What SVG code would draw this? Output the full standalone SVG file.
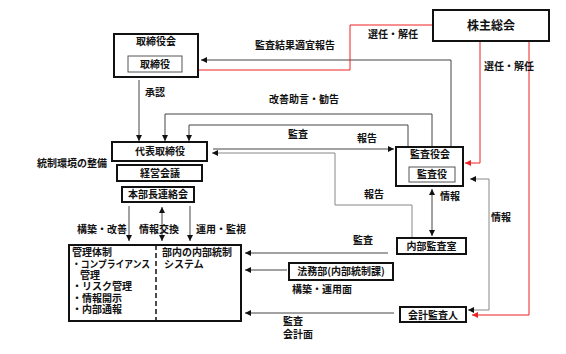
<svg xmlns="http://www.w3.org/2000/svg" width="566" height="354" viewBox="0 0 566 354">
<style>
text{font-family:"Noto Sans CJK JP","Liberation Sans",sans-serif;font-size:10px;font-weight:bold;fill:#111}
.c{text-anchor:middle}
.box{fill:#fff;stroke:#111;stroke-width:2}
.inner{fill:#fff;stroke:#555;stroke-width:1}
.ln{fill:none;stroke:#444;stroke-width:1}
.gr{fill:none;stroke:#888;stroke-width:1}
.rd{fill:none;stroke:#e22;stroke-width:1}
</style>
<defs>
<marker id="a" viewBox="0 0 6 6" refX="6" refY="3" markerWidth="6" markerHeight="6" markerUnits="userSpaceOnUse" orient="auto-start-reverse"><path d="M0,0L6,3L0,6z" fill="#111"/></marker>
<marker id="r" viewBox="0 0 6 6" refX="6" refY="3" markerWidth="6" markerHeight="6" markerUnits="userSpaceOnUse" orient="auto"><path d="M0,0L6,3L0,6z" fill="#e22"/></marker>
</defs>
<g id="connectors">
<path class="ln" d="M139,80V141" marker-end="url(#a)"/>
<path class="ln" d="M432,147V114H165V141" marker-end="url(#a)"/>
<path class="ln" d="M408,147V125H189V141" marker-end="url(#a)"/>
<path class="ln" d="M451,147V60H201" marker-end="url(#a)"/>
<path class="rd" d="M433,25H350V70H186" marker-end="url(#r)"/>
<path class="rd" d="M480,41V163H465" marker-end="url(#r)"/>
<path class="rd" d="M529,41V315H472" marker-end="url(#r)"/>
<path class="ln" d="M213,149H394" marker-end="url(#a)"/>
<path class="gr" d="M412,238V205H335V153H212" marker-end="url(#a)"/>
<path class="ln" d="M432,189V236" marker-start="url(#a)" marker-end="url(#a)"/>
<path class="gr" d="M470,179H489V310H468" marker-start="url(#a)" marker-end="url(#a)"/>
<path class="ln" d="M129,206V241" marker-end="url(#a)"/>
<path class="ln" d="M162,207V241" marker-start="url(#a)" marker-end="url(#a)"/>
<path class="ln" d="M190,206V241" marker-end="url(#a)"/>
<path class="ln" d="M388,253H245" marker-end="url(#a)"/>
<path class="ln" d="M287,270H245" marker-end="url(#a)"/>
<path class="ln" d="M394,313H245" marker-end="url(#a)"/>
</g>
<g id="labels">
<text x="255" y="49">監査結果適宜報告</text>
<text x="368" y="38">選任・解任</text>
<text x="484" y="70">選任・解任</text>
<text x="145" y="96">承認</text>
<text x="269" y="103">改善助言・勧告</text>
<text x="288" y="138">監査</text>
<text x="357" y="142">報告</text>
<text x="364" y="198">報告</text>
<text x="440" y="200">情報</text>
<text x="491" y="221">情報</text>
<text x="353" y="244">監査</text>
<text x="37" y="167">統制環境の整備</text>
<text x="77" y="233">構築・改善</text>
<text x="139" y="233">情報交換</text>
<text x="196" y="233">運用・監視</text>
<text x="292" y="293">構築・運用面</text>
<text x="283" y="325">監査</text>
<text x="283" y="338">会計面</text>
</g>
<g id="torishimariyakukai">
<rect class="box" x="114" y="34" width="84" height="43"/>
<text class="c" x="156" y="45">取締役会</text>
<rect class="inner" x="128" y="56" width="54" height="16"/>
<text class="c" x="155" y="68">取締役</text>
</g>
<g id="kabunushi">
<rect class="box" x="433" y="10" width="116" height="31"/>
<text class="c" x="491" y="30" style="font-size:12px">株主総会</text>
</g>
<g id="daihyo">
<rect class="box" x="112" y="142" width="95" height="19"/>
<text class="c" x="160" y="155">代表取締役</text>
</g>
<g id="keiei">
<rect class="box" x="117" y="165" width="85" height="16"/>
<text class="c" x="160" y="177">経営会議</text>
</g>
<g id="honbucho">
<rect class="box" x="122" y="187" width="72" height="15"/>
<text class="c" x="158" y="198">本部長連絡会</text>
</g>
<g id="kansayakukai">
<rect class="box" x="396" y="147" width="67" height="39"/>
<text class="c" x="430" y="158">監査役会</text>
<rect class="inner" x="409" y="167" width="46" height="15"/>
<text class="c" x="432" y="178">監査役</text>
</g>
<g id="naibu">
<rect class="box" x="397" y="238" width="69" height="16"/>
<text class="c" x="431.5" y="250">内部監査室</text>
</g>
<g id="homubu">
<rect class="box" x="289" y="263" width="104" height="17"/>
<text class="c" x="341" y="275">法務部(内部統制課)</text>
</g>
<g id="kaikei">
<rect class="box" x="400" y="307" width="66" height="15"/>
<text class="c" x="433" y="319">会計監査人</text>
</g>
<g id="kanri">
<rect class="box" x="69" y="245" width="172" height="76"/>
<path d="M156,245V321" stroke="#111" stroke-width="1.5" stroke-dasharray="5,3"/>
<text x="72" y="256">管理体制</text>
<text x="72" y="268" textLength="78" lengthAdjust="spacingAndGlyphs">・コンプライアンス</text>
<text x="80" y="279">管理</text>
<text x="72" y="290">・リスク管理</text>
<text x="72" y="302">・情報開示</text>
<text x="72" y="313">・内部通報</text>
<text x="162" y="256">部内の内部統制</text>
<text x="164" y="268">システム</text>
</g>
</svg>
